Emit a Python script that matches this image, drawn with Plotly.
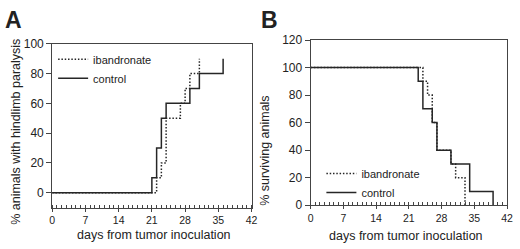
import plotly.graph_objects as go

# ---- data ----
days_ctrl_a = [0, 21, 22, 23, 24, 29, 31, 36]
pct_ctrl_a = [0, 10, 30, 50, 60, 70, 80, 90]
days_iban_a = [0, 22, 23, 24, 27, 28, 29, 31]
pct_iban_a = [0, 10, 20, 50, 60, 70, 80, 90]

days_ctrl_b = [0, 23, 24, 26, 27, 30, 34, 39]
pct_ctrl_b = [100, 90, 70, 60, 40, 30, 10, 0]
days_iban_b = [0, 24, 25, 26, 27, 30, 31, 33]
pct_iban_b = [100, 90, 80, 60, 40, 30, 20, 0]

x_ticks = [0, 7, 14, 21, 28, 35, 42]
y_ticks_a = [0, 20, 40, 60, 80, 100]
y_ticks_b = [0, 20, 40, 60, 80, 100, 120]

W, H = 520, 249
FONT = "Liberation Sans, Arial, sans-serif"
LINE = "#262626"
AX = "#444444"
DOT = "1.5px,1.8px"

fig = go.Figure()

# panel A
fig.add_trace(go.Scatter(x=days_iban_a, y=pct_iban_a, mode="lines", line_shape="hv",
                         name="ibandronate", line=dict(color=LINE, width=1.5, dash=DOT),
                         xaxis="x", yaxis="y", legend="legend"))
fig.add_trace(go.Scatter(x=days_ctrl_a, y=pct_ctrl_a, mode="lines", line_shape="hv",
                         name="control", line=dict(color=LINE, width=1.5),
                         xaxis="x", yaxis="y", legend="legend"))
# panel B
fig.add_trace(go.Scatter(x=days_iban_b, y=pct_iban_b, mode="lines", line_shape="hv",
                         name="ibandronate", line=dict(color=LINE, width=1.5, dash=DOT),
                         xaxis="x2", yaxis="y2", legend="legend2"))
fig.add_trace(go.Scatter(x=days_ctrl_b, y=pct_ctrl_b, mode="lines", line_shape="hv",
                         name="control", line=dict(color=LINE, width=1.5),
                         xaxis="x2", yaxis="y2", legend="legend2"))


def px_x(p):
    return p / W


def px_y(p):
    return 1 - p / H


xcommon = dict(range=[0, 42], tickvals=x_ticks, showline=True, linecolor=AX, linewidth=1,
               mirror=True, ticks="outside", ticklen=3, tickcolor=AX, showgrid=False,
               zeroline=False, tickfont=dict(size=10.5, color="#222", family=FONT),
               minor=dict(dtick=1, ticks="inside", ticklen=3, tickcolor=AX, showgrid=False),
               fixedrange=True)
ycommon = dict(showline=True, linecolor=AX, linewidth=1, mirror=True, ticks="outside",
               ticklen=5, tickcolor=AX, showgrid=False, zeroline=False,
               tickfont=dict(size=12, color="#222", family=FONT), fixedrange=True)

fig.update_layout(
    width=W, height=H,
    margin=dict(l=0, r=0, t=0, b=0),
    paper_bgcolor="white", plot_bgcolor="white",
    font=dict(family=FONT, color="#222"),
    xaxis=dict(domain=[px_x(50), px_x(253)], anchor="y", **xcommon),
    yaxis=dict(domain=[px_y(212.5), px_y(39)], anchor="x", range=[-10, 100],
               tickvals=y_ticks_a, **ycommon),
    xaxis2=dict(domain=[px_x(313), px_x(513)], anchor="y2", **xcommon),
    yaxis2=dict(domain=[px_y(210), px_y(35)], anchor="x2", range=[0, 120],
                tickvals=y_ticks_b, **ycommon),
    legend=dict(x=px_x(51), y=px_y(40), xanchor="left", yanchor="top",
                bgcolor="rgba(0,0,0,0)", font=dict(size=11, family=FONT, color="#222"),
                tracegroupgap=0, itemwidth=30),
    legend2=dict(x=px_x(324), y=px_y(161), xanchor="left", yanchor="top",
                 bgcolor="rgba(0,0,0,0)", font=dict(size=11, family=FONT, color="#222"),
                 tracegroupgap=0, itemwidth=30),
    showlegend=True,
)

annos = [
    dict(text="<b>A</b>", x=px_x(11), y=px_y(13.5), font=dict(size=23)),
    dict(text="<b>B</b>", x=px_x(271), y=px_y(13.5), font=dict(size=23)),
    dict(text="% animals with hindlimb paralysis", x=px_x(12.5), y=px_y(132),
         textangle=-90, font=dict(size=12.5)),
    dict(text="% surviving animals", x=px_x(267), y=px_y(152), textangle=-90,
         font=dict(size=12.5)),
    dict(text="days from tumor inoculation", x=px_x(154), y=px_y(242), font=dict(size=12.5)),
    dict(text="days from tumor inoculation", x=px_x(410), y=px_y(243), font=dict(size=12.5)),
]
for a in annos:
    a.update(xref="paper", yref="paper", showarrow=False, xanchor="center", yanchor="middle")
    a["font"].update(family=FONT, color="#222")
fig.update_layout(annotations=annos)

fig.write_html("out.html", config={"displayModeBar": False},
               post_script="document.documentElement.style.margin='0';"
                           "document.body.style.margin='0';"
                           "document.body.style.overflow='hidden';")
